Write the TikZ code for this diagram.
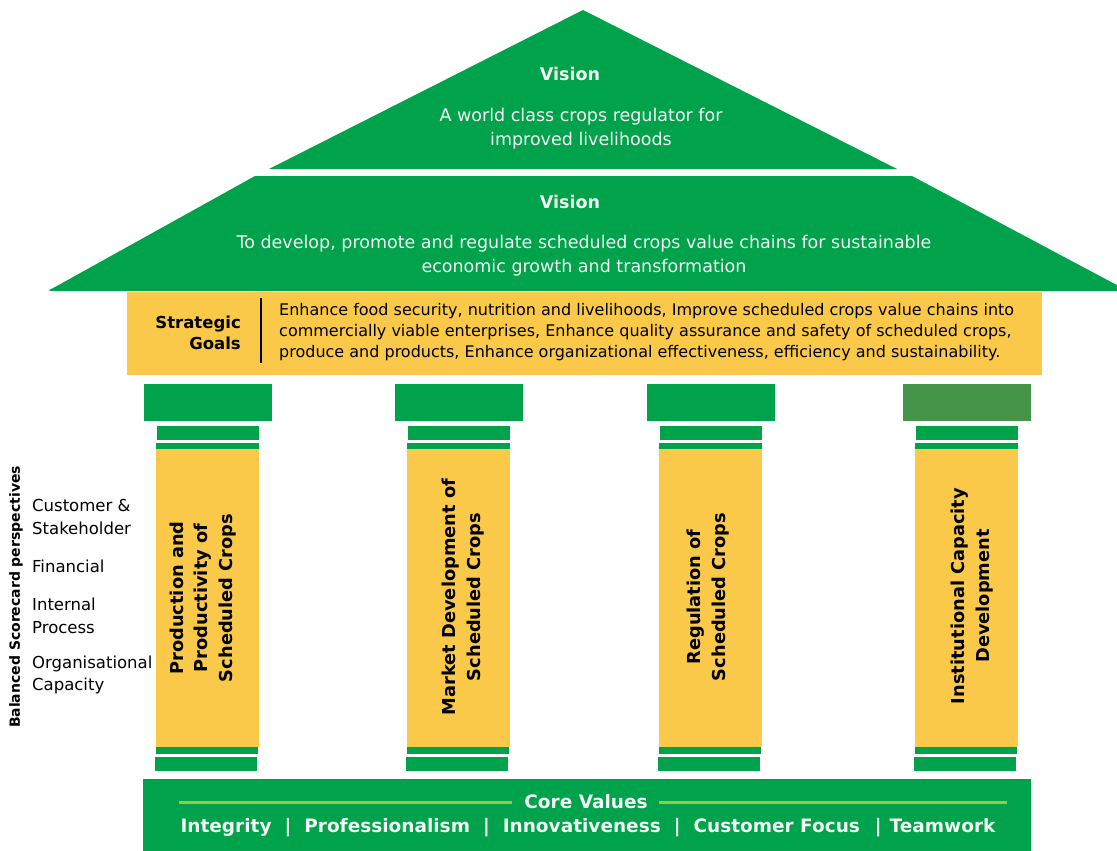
\documentclass[tikz,border=0pt]{standalone}
\usepackage{fontspec}
\setmainfont{DejaVu Sans}
\definecolor{leaf}{HTML}{00A24B}
\definecolor{moss}{HTML}{46934A}
\definecolor{sun}{HTML}{FAC94A}
\definecolor{lime}{HTML}{9CC83B}
\definecolor{snow}{HTML}{F3F9F3}
\begin{document}
\begin{tikzpicture}[x=1pt,y=-1pt,
  roof/.style={fill=leaf},
  whitetxt/.style={text=snow,inner sep=0pt,align=center},
  pillartxt/.style={rotate=90,inner sep=0pt,align=center,
    font=\bfseries\fontsize{17.8}{24.5}\selectfont},
  sidetxt/.style={anchor=west,inner sep=0pt,align=left,
    font=\fontsize{16.5}{22.5}\selectfont},
  rule/.style={lime,line width=3pt}]
\useasboundingbox (0,0) rectangle (1117,851);

% roof: pediment and cornice (only the left eave tip is rounded)
\fill[roof] (583,10) -- (897,169) -- (269,169) -- cycle;
\fill[roof] (255,176) -- (912,176) -- (1128,291) -- (56,291)
  .. controls (47,291) .. (54,287.6) -- cycle;

% architrave with the strategic goals
\fill[sun] (127,292) rectangle (1042,375);
\draw[line width=2.6pt] (261,298) -- (261,363);

% columns
\foreach \c/\capcol in {207.5/leaf,458.5/leaf,710.5/leaf,966.5/moss}{
  \fill[\capcol] (\c-64,384) rectangle (\c+64,421);
  \fill[leaf] (\c-51,426) rectangle (\c+51,440);
  \fill[leaf] (\c-52,443) rectangle (\c+51,449);
  \fill[sun]  (\c-51.5,449) rectangle (\c+51.5,747);
  \fill[leaf] (\c-51.5,747) rectangle (\c+50.5,754);
  \fill[leaf] (\c-52.5,757) rectangle (\c+49.5,771);
}

% base
\fill[leaf] (143,779) rectangle (1031,851);

% roof texts
\node[whitetxt,font=\bfseries\fontsize{17.5}{24}\selectfont] (visA) at (570,74) {Vision};
\node[whitetxt,font=\fontsize{17.5}{24}\selectfont] (visAtxt) at (581,129)
  {A world class crops regulator for\\improved livelihoods};
\node[whitetxt,font=\bfseries\fontsize{17.5}{24}\selectfont] (visB) at (570,202) {Vision};
\node[whitetxt,font=\fontsize{17.5}{24}\selectfont] (visBtxt) at (584,256)
  {To develop, promote and regulate scheduled crops value chains for sustainable\\economic growth and transformation};

% strategic goals
\node[anchor=east,inner sep=0pt,align=right,font=\bfseries\fontsize{16.5}{21}\selectfont] (goalslbl) at (241,333)
  {Strategic\\Goals};
\node[anchor=west,inner sep=0pt,align=left,font=\fontsize{16}{21}\selectfont] (goals) at (279,332)
  {Enhance food security, nutrition and livelihoods, Improve scheduled crops value chains into\\
   commercially viable enterprises, Enhance quality assurance and safety of scheduled crops,\\
   produce and products, Enhance organizational effectiveness, efficiency and sustainability.};

% column labels
\node[pillartxt] (p1) at (203,598) {Production and\\Productivity of\\Scheduled Crops};
\node[pillartxt] (p2) at (463,597) {Market Development of\\Scheduled Crops};
\node[pillartxt] (p3) at (708,597) {Regulation of\\Scheduled Crops};
\node[pillartxt] (p4) at (972,596) {Institutional Capacity\\Development};

% balanced scorecard perspectives
\node[rotate=90,inner sep=0pt,font=\bfseries\fontsize{14}{16}\selectfont] (bsc) at (16,597)
  {Balanced Scorecard perspectives};
\node[sidetxt] (s1) at (32,517) {Customer \&\\Stakeholder};
\node[sidetxt] (s2) at (32,566) {Financial};
\node[sidetxt] (s3) at (32,616) {Internal\\Process};
\node[sidetxt] (s4) at (32,675) {Organisational\\Capacity};

% core values
\node[whitetxt,font=\bfseries\fontsize{18.5}{22}\selectfont] (core) at (586,802) {Core Values};
\coordinate (lineL) at (179,802);
\coordinate (lineR) at (1007,802);
\draw[rule] (lineL) -- (core.west -| {(512,0)});
\draw[rule] (core.east -| {(659,0)}) -- (lineR);
\node[whitetxt,font=\bfseries\fontsize{18.5}{22}\selectfont] (values) at (588,828)
  {Integrity\hspace{13pt}|\hspace{13pt}Professionalism\hspace{13pt}|\hspace{13pt}Innovativeness\hspace{13pt}|\hspace{13pt}Customer Focus\hspace{15pt}|\hspace{8pt}Teamwork};
\end{tikzpicture}
\end{document}
